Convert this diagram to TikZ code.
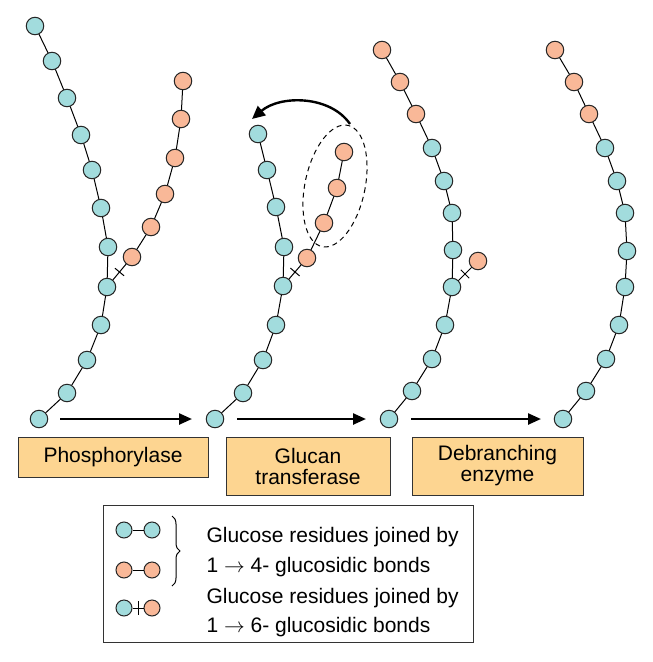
\documentclass[tikz,border=0pt]{standalone}
\usepackage{fontspec}
\setmainfont{Liberation Sans}
\usetikzlibrary{decorations.pathreplacing,arrows.meta,calc,shapes.geometric}
\definecolor{gb}{HTML}{A2DCDD}
\definecolor{go}{HTML}{F9B898}
\definecolor{bx}{HTML}{FDD591}
\begin{document}
\begin{tikzpicture}[x=1pt,y=-1pt,
  b/.style={circle,draw=black!85,line width=1pt,fill=gb,minimum size=17.5pt,inner sep=0pt},
  o/.style={circle,draw=black!85,line width=1pt,fill=go,minimum size=17.5pt,inner sep=0pt},
  ln/.style={line width=1pt},
  tick/.style={line width=1pt},
  proc/.style={line width=2.4pt,-{Triangle[length=13pt,width=11pt]}},
  txt/.style={font=\fontsize{21}{25}\selectfont},
  lab/.style={draw=black!80,line width=1pt,fill=bx,font=\fontsize{21}{21}\selectfont,align=center}]
\useasboundingbox (0,0) rectangle (653,662);
\foreach \n/\x/\y in {a1/35/26,a2/52/61,a3/67/98,a4/81/135,a5/92/170,a6/101/208,a7/108/247,a8/107/287,a9/101/325,a10/87/360,a11/67/393,a12/39/419,
 p1/132/257,p2/151/227,p3/165/194,p4/175/158,p5/181/119,p6/183/81,
 c1/258/134,c2/267/170,c3/276/207,c4/284/247,c5/283/286,c6/276/325,c7/263/360,c8/243/393,c9/215/419,
 q1/307/258,q2/324/223,q3/337/188,q4/344/152,
 d1/382/50,d2/400/82,d3/416/114,d4/432/148,d5/444/181,d6/452/213,d7/453/250,d8/452/287,d9/445/325,d10/432/359,d11/412/391,d12/389/419,
 r1/478/261,
 e1/555/50,e2/574/82,e3/589/114,e4/605/148,e5/617/181,e6/625/213,e7/627/251,e8/625/287,e9/619/325,e10/606/359,e11/586/391,e12/563/419}
 {\coordinate (\n) at (\x,\y);}
\foreach \u/\v in {a1/a2,a2/a3,a3/a4,a4/a5,a5/a6,a6/a7,a7/a8,a8/a9,a9/a10,a10/a11,a11/a12,a8/p1,p1/p2,p2/p3,p3/p4,p4/p5,p5/p6,
 c1/c2,c2/c3,c3/c4,c4/c5,c5/c6,c6/c7,c7/c8,c8/c9,c5/q1,q1/q2,q2/q3,q3/q4,
 d1/d2,d2/d3,d3/d4,d4/d5,d5/d6,d6/d7,d7/d8,d8/d9,d9/d10,d10/d11,d11/d12,d8/r1,
 e1/e2,e2/e3,e3/e4,e4/e5,e5/e6,e6/e7,e7/e8,e8/e9,e9/e10,e10/e11,e11/e12}
 {\draw[ln] (\u) -- (\v);}
\foreach \u/\v in {a8/p1,c5/q1,d8/r1}
 {\draw[tick] ($(\u)!0.5!(\v)!6pt!90:(\v)$) -- ($(\u)!0.5!(\v)!6pt!-90:(\v)$);}
\foreach \n in {a1,a2,a3,a4,a5,a6,a7,a8,a9,a10,a11,a12,c1,c2,c3,c4,c5,c6,c7,c8,c9,d4,d5,d6,d7,d8,d9,d10,d11,d12,e4,e5,e6,e7,e8,e9,e10,e11,e12}
 {\node[b] (n\n) at (\n) {};}
\foreach \n in {p1,p2,p3,p4,p5,p6,q1,q2,q3,q4,d1,d2,d3,r1,e1,e2,e3}
 {\node[o] (n\n) at (\n) {};}
\node[draw,dash pattern=on 5pt off 4pt,line width=1pt,ellipse,minimum width=60pt,minimum height=124pt,rotate=-12] (ell) at (335,186) {};
\coordinate (t1) at (350,124);
\coordinate (t2) at (252,119);
\draw[line width=2.4pt,-{Triangle[length=13pt,width=12pt]}] (t1) .. controls (330,95) and (280,95) .. (t2);
\coordinate (s1) at (60,419); \coordinate (f1) at (192,419);
\coordinate (s2) at (237,419); \coordinate (f2) at (366,419);
\coordinate (s3) at (411,419); \coordinate (f3) at (541,419);
\draw[proc] (s1) -- (f1);
\draw[proc] (s2) -- (f2);
\draw[proc] (s3) -- (f3);
\node[lab,minimum width=190pt,minimum height=40pt] (L1) at (113,457.5) {Phosphorylase};
\node[lab,minimum width=164pt,minimum height=58pt] (L2) at (308,466) {Glucan\\transferase};
\node[lab,minimum width=171pt,minimum height=58pt] (L3) at (497.5,466) {Debranching\\enzyme};
\node[draw=black!80,line width=1pt,minimum width=370pt,minimum height=137pt] (leg) at (288,573.5) {};
\node[b,minimum size=16pt] (l1) at (124,530) {}; \node[b,minimum size=16pt] (l2) at (152,530) {};
\node[o,minimum size=16pt] (l3) at (124,570) {}; \node[o,minimum size=16pt] (l4) at (152,570) {};
\node[b,minimum size=16pt] (l5) at (124,608) {}; \node[o,minimum size=16pt] (l6) at (152,608) {};
\draw[ln] (l1) -- (l2); \draw[ln] (l3) -- (l4); \draw[ln] (l5) -- (l6);
\draw[tick] (138,601) -- (138,615);
\draw[line width=1pt,decorate,decoration={brace,amplitude=8pt}] (172,516) -- (172,586);
\node[anchor=west,txt] (t1a) at (203,537) {Glucose residues joined by};
\node[anchor=west,txt] (t1b) at (203,567) {1 $\rightarrow$ 4- glucosidic bonds};
\node[anchor=west,txt] (t2a) at (203,598) {Glucose residues joined by};
\node[anchor=west,txt] (t2b) at (203,627) {1 $\rightarrow$ 6- glucosidic bonds};
\end{tikzpicture}
\end{document}
